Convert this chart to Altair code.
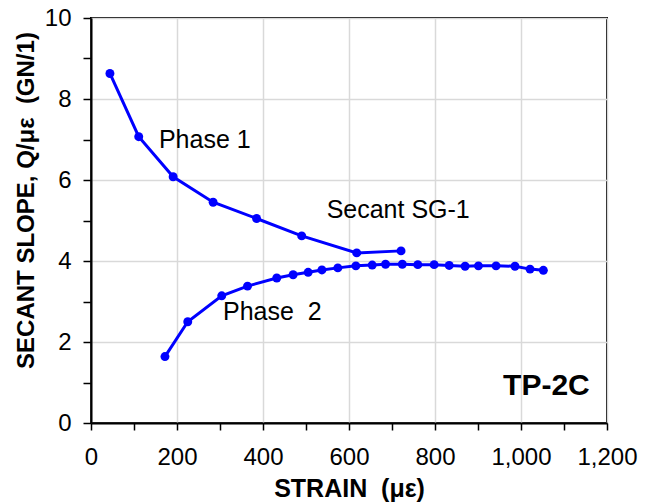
import altair as alt
import pandas as pd

# Phase 1 series
p1_strain = [44, 111, 191, 284, 385, 490, 618, 721]
p1_slope = [8.63, 7.07, 6.08, 5.45, 5.05, 4.62, 4.20, 4.25]

# Phase 2 series
p2_strain = [172, 225, 304, 364, 432, 470, 505, 537, 574, 616, 654, 685,
             724, 760, 798, 833, 870, 901, 942, 986, 1021, 1052]
p2_slope = [1.64, 2.50, 3.14, 3.38, 3.58, 3.66, 3.72, 3.78, 3.83, 3.88, 3.90, 3.92,
            3.92, 3.91, 3.91, 3.89, 3.87, 3.88, 3.88, 3.87, 3.80, 3.77]

# annotations
NBSP = "\u00a0"
ann_text = ["Phase 1", "Secant SG-1", "Phase" + NBSP + NBSP + "2"]
ann_x = [158, 548, 307]
ann_y = [7.0, 5.27, 2.73]

tag_text = ["TP-2C"]
tag_x = [1160]
tag_y = [0.92]

x_ticks = list(range(0, 1201, 100))
y_ticks = list(range(0, 11, 1))

FONT = "Liberation Sans"

rows = []
for i, (s, v) in enumerate(zip(p1_strain, p1_slope)):
    rows.append({"strain": s, "slope": v, "series": "Phase 1", "order": i})
for i, (s, v) in enumerate(zip(p2_strain, p2_slope)):
    rows.append({"strain": s, "slope": v, "series": "Phase 2", "order": i})
df = pd.DataFrame(rows)

ann_df = pd.DataFrame({"text": ann_text, "x": ann_x, "y": ann_y})
tag_df = pd.DataFrame({"text": tag_text, "x": tag_x, "y": tag_y})

x_scale = alt.Scale(domain=[0, 1200], nice=False, zero=False)
y_scale = alt.Scale(domain=[0, 10], nice=False, zero=False)

x_axis = alt.Axis(
    values=x_ticks,
    format=",d",
    labelExpr="datum.value % 200 === 0 ? datum.label : ''",
    title="STRAIN" + NBSP + NBSP + "(\u03bc\u03b5)",
    grid=True,
    gridColor="#d9d9d9",
    gridWidth=1.5,
    gridOpacity={"condition": {"test": "datum.value % 200 === 0", "value": 1}, "value": 0},
    tickSize=7,
    tickColor="black",
    tickWidth=1.5,
    domainColor="black",
    domainWidth=2,
    labelFontSize=24,
    labelFont=FONT,
    labelColor="black",
    labelPadding=15,
    labelFlush=False,
    titleFont=FONT,
    titleFontSize=25,
    titleFontWeight="bold",
    titleColor="black",
    titlePadding=7,
)

y_axis = alt.Axis(
    values=y_ticks,
    labelExpr="datum.value % 2 === 0 ? datum.label : ''",
    title="SECANT SLOPE, Q/\u03bc\u03b5" + NBSP + NBSP + "(GN/1)",
    grid=True,
    gridColor="#d9d9d9",
    gridWidth=1.5,
    gridOpacity={"condition": {"test": "datum.value % 2 === 0", "value": 1}, "value": 0},
    tickSize=8,
    tickColor="black",
    tickWidth=1.5,
    domainColor="black",
    domainWidth=2,
    labelFontSize=24,
    labelFont=FONT,
    labelColor="black",
    labelPadding=12,
    labelFlush=False,
    titleFont=FONT,
    titleFontSize=24,
    titleFontWeight="bold",
    titleColor="black",
    titlePadding=6,
    titleY=182,
)

lines = alt.Chart(df).mark_line(
    color="#0000FF", strokeWidth=3,
    point=alt.OverlayMarkDef(color="#0000FF", filled=True, size=80, opacity=1),
).encode(
    x=alt.X("strain:Q", scale=x_scale, axis=x_axis),
    y=alt.Y("slope:Q", scale=y_scale, axis=y_axis),
    detail="series:N",
    order="order:Q",
)

ann = alt.Chart(ann_df).mark_text(
    align="left", baseline="middle", fontSize=25, font=FONT, color="black"
).encode(
    x=alt.X("x:Q", scale=x_scale),
    y=alt.Y("y:Q", scale=y_scale),
    text="text:N",
)

tag = alt.Chart(tag_df).mark_text(
    align="right", baseline="middle", fontSize=30, font=FONT, fontWeight="bold", color="black"
).encode(
    x=alt.X("x:Q", scale=x_scale),
    y=alt.Y("y:Q", scale=y_scale),
    text="text:N",
)

chart = alt.layer(lines, ann, tag).properties(
    width=516,
    height=405,
    autosize=alt.AutoSizeParams(type="none"),
    padding={"left": 91, "top": 18, "right": 44, "bottom": 80},
    background="white",
).configure_view(
    stroke="black",
    strokeWidth=2,
)

chart.save("out.html", embed_options={"renderer": "svg", "actions": False})
